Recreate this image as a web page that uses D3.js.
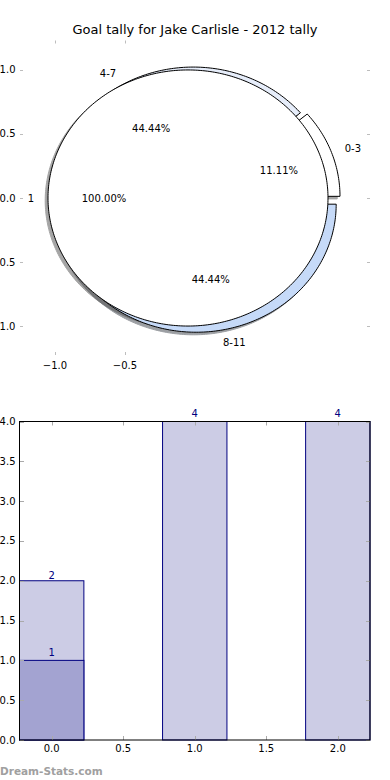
<!DOCTYPE html>
<html><head><meta charset="utf-8">
<script src="https://cdn.jsdelivr.net/npm/d3@7"></script>
<style>body{margin:0;background:#fff} svg{display:block} text{font-family:"DejaVu Sans",sans-serif}</style>
</head><body><svg id="c" width="390" height="780"></svg>
<script>
const title = "Goal tally for Jake Carlisle - 2012 tally";
const outerLabels = ["0-3","4-7","8-11"];
const outerValues = [1,4,4];
const outerExplode = [0.038,0.026,0.049];
const outerColors = ["#ffffff","#e6edfa","#c6daf8"];
const innerLabels = ["1"];
const innerValues = [1];
const innerExplode = [0.05];
const innerColors = ["#ffffff"];
const pieXTicks = [-1.0,-0.5];
const pieYTicks = [-1.0,-0.5,0.0,0.5,1.0];

const barCats = [0,1,2];
const barTotals = [2,4,4];
const barSub = [1,0,0];
const barXTicks = [0,0.5,1,1.5,2];
const barYTicks = [0,0.5,1,1.5,2,2.5,3,3.5,4];
const watermark = "Dream-Stats.com";

const svg = d3.select("#c");
const fmt = v => (v<0?"\u2212":"") + Math.abs(v).toFixed(1);
const tickCol = "#bdbdbd";

// title
svg.append("text").attr("x",195).attr("y",34).attr("text-anchor","middle")
  .attr("font-size",13).attr("fill","#000").text(title);

// ---------- PIE ----------
const px = d3.scaleLinear().domain([-1.25,1.25]).range([20,370]);
const py = d3.scaleLinear().domain([-1.23,1.23]).range([355.5,40.5]);
const line = d3.line().x(d=>px(d[0])).y(d=>py(d[1]));

function pieLayout(vals, expl){
  const tot = d3.sum(vals); let t1 = 0; const out=[];
  vals.forEach((v,i)=>{
    const t2 = t1 + v/tot;
    const tm = Math.PI*(t1+t2);
    const cx = expl[i]*Math.cos(tm), cy = expl[i]*Math.sin(tm);
    out.push({a0:t1*360,a1:t2*360,tm,cx,cy,frac:v/tot,i});
    t1 = t2;
  });
  return out;
}
function wedgePts(w, ox, oy){
  const pts=[]; const full = (w.a1-w.a0)>=359.999;
  if(!full) pts.push([w.cx+ox,w.cy+oy]);
  const n = Math.max(8,Math.ceil((w.a1-w.a0)/1));
  for(let k=0;k<=n;k++){
    const a = (w.a0 + (w.a1-w.a0)*k/n)*Math.PI/180;
    pts.push([w.cx+ox+Math.cos(a), w.cy+oy+Math.sin(a)]);
  }
  return pts;
}
const outerW = pieLayout(outerValues, outerExplode);
const innerW = pieLayout(innerValues, innerExplode);
const gPie = svg.append("g");
function shadowCol(c){const r=d3.rgb(c);return d3.rgb(r.r*0.3,r.g*0.3,r.b*0.3).toString();}
// shadows
[[outerW,outerColors],[innerW,innerColors]].forEach(([ws,cols])=>{
  ws.forEach(w=>{
    gPie.append("path").attr("d",line(wedgePts(w,-0.02,-0.02))+"Z")
      .attr("fill",shadowCol(cols[w.i])).attr("stroke",shadowCol(cols[w.i]))
      .attr("opacity",0.5).attr("stroke-width",1);
  });
});
// wedges
[[outerW,outerColors],[innerW,innerColors]].forEach(([ws,cols])=>{
  ws.forEach(w=>{
    gPie.append("path").attr("d",line(wedgePts(w,0,0))+"Z")
      .attr("fill",cols[w.i]).attr("stroke","#000").attr("stroke-width",1)
      .attr("stroke-linejoin","round");
  });
});
// labels
[[outerW,outerLabels],[innerW,innerLabels]].forEach(([ws,labs])=>{
  ws.forEach(w=>{
    const lx = w.cx + 1.1*Math.cos(w.tm), ly = w.cy + 1.1*Math.sin(w.tm);
    gPie.append("text").attr("x",px(lx)).attr("y",py(ly)).attr("dy","0.35em")
      .attr("text-anchor", lx>0?"start":"end").attr("font-size",10).text(labs[w.i]);
    const qx = w.cx + 0.6*Math.cos(w.tm), qy = w.cy + 0.6*Math.sin(w.tm);
    gPie.append("text").attr("x",px(qx)).attr("y",py(qy)).attr("dy","0.35em")
      .attr("text-anchor","middle").attr("font-size",10)
      .text((w.frac*100).toFixed(2)+"%");
  });
});
// pie axes ticks (no spines)
pieYTicks.forEach(v=>{
  const y = Math.round(py(v))+0.5;
  gPie.append("line").attr("x1",20).attr("x2",23).attr("y1",y).attr("y2",y).attr("stroke",tickCol);
  gPie.append("line").attr("x1",367).attr("x2",370).attr("y1",y).attr("y2",y).attr("stroke",tickCol);
  gPie.append("text").attr("x",15.5).attr("y",py(v)).attr("dy","0.35em").attr("text-anchor","end")
    .attr("font-size",10).text(fmt(v));
});
pieXTicks.forEach(v=>{
  const x = Math.round(px(v))+0.5;
  gPie.append("line").attr("x1",x).attr("x2",x).attr("y1",40.5).attr("y2",43.5).attr("stroke",tickCol);
  gPie.append("line").attr("x1",x).attr("x2",x).attr("y1",352).attr("y2",355).attr("stroke",tickCol);
  gPie.append("text").attr("x",px(v)).attr("y",369).attr("text-anchor","middle")
    .attr("font-size",10).text(fmt(v));
});

// ---------- BARS ----------
const bw = 0.45;
const bx = d3.scaleLinear().domain([-0.225,2.225]).range([19.5,370]);
const by = d3.scaleLinear().domain([0,4]).range([740,421.5]);
const gB = svg.append("g");
const navy = "#000080";
barCats.forEach((c,i)=>{
  gB.append("rect").attr("x",bx(c-bw/2)).attr("width",bx(c+bw/2)-bx(c-bw/2))
    .attr("y",by(barTotals[i])).attr("height",by(0)-by(barTotals[i]))
    .attr("fill","#ccccE5").attr("stroke",navy).attr("stroke-width",1);
  gB.append("text").attr("x",bx(c)).attr("y",by(barTotals[i])-(i===0?1.5:4.5)).attr("text-anchor","middle")
    .attr("font-size",10).attr("fill",navy).text(barTotals[i]);
  if(barSub[i]>0){
    gB.append("rect").attr("x",bx(c-bw/2)).attr("width",bx(c+bw/2)-bx(c-bw/2))
      .attr("y",by(barSub[i])).attr("height",by(0)-by(barSub[i]))
      .attr("fill","#a3a3d1").attr("stroke",navy).attr("stroke-width",1);
    gB.append("text").attr("x",bx(c)).attr("y",by(barSub[i])-4.5).attr("text-anchor","middle")
      .attr("font-size",10).attr("fill",navy).text(barSub[i]);
  }
});
// ticks
barYTicks.forEach(v=>{
  const y = Math.round(by(v))+0.5;
  gB.append("line").attr("x1",20).attr("x2",24).attr("y1",y).attr("y2",y).attr("stroke","#aaa");
  gB.append("line").attr("x1",366).attr("x2",370).attr("y1",y).attr("y2",y).attr("stroke","#aaa");
  gB.append("text").attr("x",15.5).attr("y",by(v)).attr("dy","0.35em").attr("text-anchor","end")
    .attr("font-size",10).text(fmt(v));
});
barXTicks.forEach(v=>{
  const x = Math.round(bx(v))+0.5;
  gB.append("line").attr("x1",x).attr("x2",x).attr("y1",421.5).attr("y2",425.5).attr("stroke","#aaa");
  gB.append("line").attr("x1",x).attr("x2",x).attr("y1",736).attr("y2",740).attr("stroke","#aaa");
  gB.append("text").attr("x",bx(v)).attr("y",752).attr("text-anchor","middle")
    .attr("font-size",10).text(fmt(v));
});
// frame
gB.append("rect").attr("x",19.5).attr("y",421.5).attr("width",350.5).attr("height",318.5)
  .attr("fill","none").attr("stroke","#000").attr("stroke-width",1);

// watermark
svg.append("text").attr("x",0).attr("y",775)
  .attr("font-weight","bold").attr("font-size",10.5).attr("fill","#a0a0a0").text(watermark);
</script></body></html>
